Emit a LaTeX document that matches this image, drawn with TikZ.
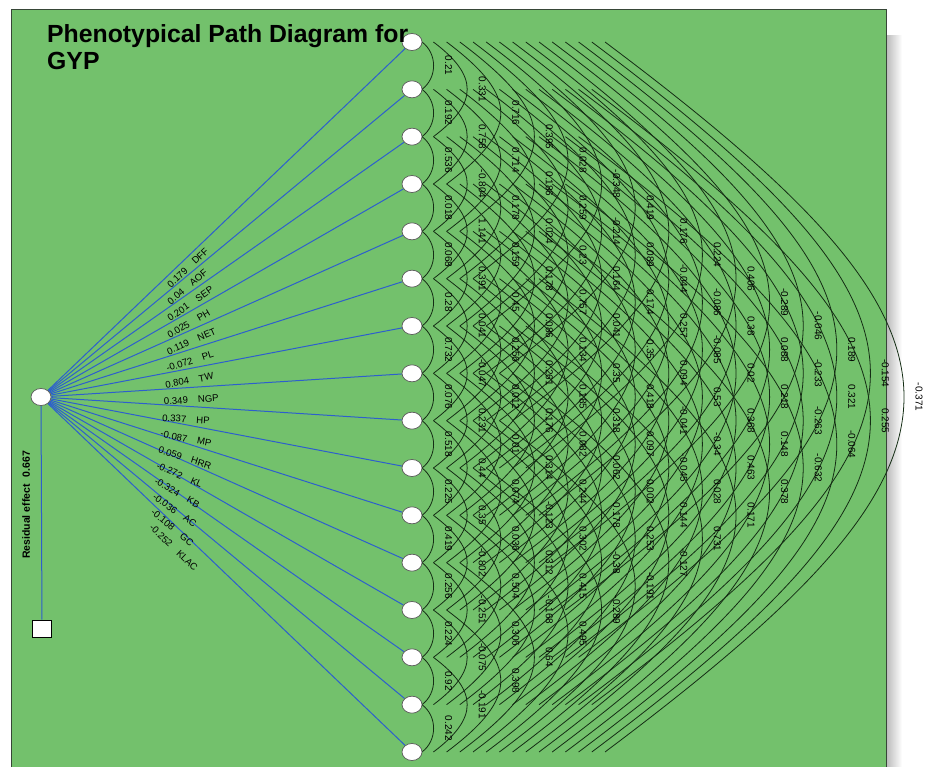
\documentclass[tikz,border=0pt]{standalone}
\usepackage{fontspec}
\setmainfont{Liberation Sans}
\usetikzlibrary{shapes.geometric,calc}
\pgfdeclarelayer{back}
\pgfdeclarelayer{background}
\pgfsetlayers{back,background,main}
\definecolor{bggreen}{RGB}{115,193,108}
\definecolor{pathblue}{RGB}{45,95,205}
\definecolor{arcdark}{RGB}{20,45,20}
\definecolor{frameline}{RGB}{55,70,55}
\begin{document}
\begin{tikzpicture}[x=1pt,y=-1pt,
  rnode/.style={ellipse, draw=gray!70!black, fill=white, line width=0.7pt, minimum width=20pt, minimum height=17pt, inner sep=0pt},
  pathline/.style={draw=pathblue, line width=1pt},
  corrarc/.style={draw=arcdark, line width=0.8pt},
  corrlabel/.style={rotate=-90, font=\fontsize{10}{11}\selectfont, inner sep=0pt},
  coeflabel/.style={font=\fontsize{9.6}{11}\selectfont, sloped, anchor=north west, inner xsep=0pt},
  titletext/.style={anchor=base west, inner sep=0pt, font=\fontsize{24.8}{28}\selectfont\bfseries},
]
\useasboundingbox (0,0) rectangle (927,767);
\begin{pgfonlayer}{back}
  \shade[left color=gray!55, right color=white] (886,36) rectangle (902,767);
  \fill[bggreen] (11,10) rectangle (886,790);
  \draw[frameline, line width=1pt] (11,790) -- (11,10) -- (886,10) -- (886,790);
\end{pgfonlayer}

% nodes
\node[rnode] (L) at (41,397) {};
\node[draw=black, fill=white, minimum width=19pt, minimum height=17pt, inner sep=0pt, line width=0.8pt] (S) at (42,628.5) {};
\foreach \i in {1,...,16} \node[rnode] (n\i) at (412,{42+(\i-1)*47.333}) {};

% title
\node[titletext] (t1) at (47,43) {Phenotypical Path Diagram for};
\node[titletext] (t2) at (47,70) {GYP};

% residual
\begin{pgfonlayer}{background}
  \draw[pathline] (L) -- (S);
\end{pgfonlayer}
\node[rotate=90, font=\fontsize{10.5}{12}\selectfont\bfseries, inner sep=0pt] (res) at (26,505) {Residual effect\hspace{7pt}0.667};

% path lines with coefficients
\foreach \i/\v/\nm in {1/0.179/DFF,2/0.04/AOF,3/0.201/SEP,4/0.025/PH,5/0.119/NET,6/-0.072/PL,7/0.804/TW,8/0.349/NGP,9/0.337/HP,10/-0.087/MP,11/0.059/HRR,12/-0.272/KL,13/-0.324/KB,14/-0.036/AC,15/-0.108/GC,16/-0.252/KLAC}{
  \begin{pgfonlayer}{background}
    \draw[pathline] (L) -- (n\i);
  \end{pgfonlayer}
  \pgfmathsetmacro\ys{4.6+0.6*(\i-1)}
  \path (L.center) -- (n\i.center) node[pos=0.3288, coeflabel, inner ysep=\ys pt] (c\i) {\v\hspace{10pt}\nm};
}

% correlation arcs
\foreach \k/\vals in {
  1/{0.21,0.192,0.536,0.018,0.068,0.28,0.732,0.076,0.518,0.225,0.419,0.256,0.224,0.92,0.242},
  2/{0.331,0.758,-0.804,1.141,0.391,0.041,-0.047,0.231,0.44,0.35,-0.802,-0.251,-0.075,-0.191},
  3/{0.716,0.714,0.178,0.159,0.45,0.256,0.012,0.01,0.074,0.036,0.504,0.306,0.398},
  4/{0.395,0.186,0.024,0.178,0.086,0.261,0.176,0.314,-0.123,0.312,-0.168,0.64},
  5/{0.028,0.259,0.23,0.757,0.134,0.185,0.082,0.244,0.302,0.415,0.495},
  6/{-0.348,-0.214,0.164,0.041,0.35,0.318,0.062,0.178,-0.38,-0.289},
  7/{0.419,0.089,0.174,0.35,0.418,0.097,0.002,0.253,-0.191},
  8/{0.176,-0.044,0.257,0.094,-0.041,-0.045,0.144,-0.127},
  9/{0.224,-0.086,-0.085,0.53,-0.34,0.028,0.731},
  10/{0.406,0.38,0.02,0.368,0.463,0.171},
  11/{-0.289,0.088,0.218,0.148,0.378},
  12/{-0.046,-0.233,-0.263,-0.632},
  13/{0.189,0.321,-0.064},
  14/{-0.154,0.255},
  15/{-0.371}}{
  \pgfmathsetmacro\xs{max(10,-5+13.2*\k)}
  \pgfmathsetmacro\cx{(33.6*\k-12-\xs)/0.75}
  \pgfmathsetmacro\cy{0.75*\cx}
  \pgfmathsetmacro\xl{3+33.6*\k}
  \foreach \v [count=\i] in \vals {
    \pgfmathtruncatemacro\j{\i+\k}
    \begin{pgfonlayer}{background}
      \draw[corrarc] ($(n\i)+(\xs,0)$) .. controls +(\cx,\cy) and +(\cx,-\cy) .. ($(n\j)+(\xs,0)$);
    \end{pgfonlayer}
    \node[corrlabel] (r\i-\j) at ($(n\i)!0.5!(n\j)+(\xl,0)$) {\v};
  }
}
\end{tikzpicture}
\end{document}
